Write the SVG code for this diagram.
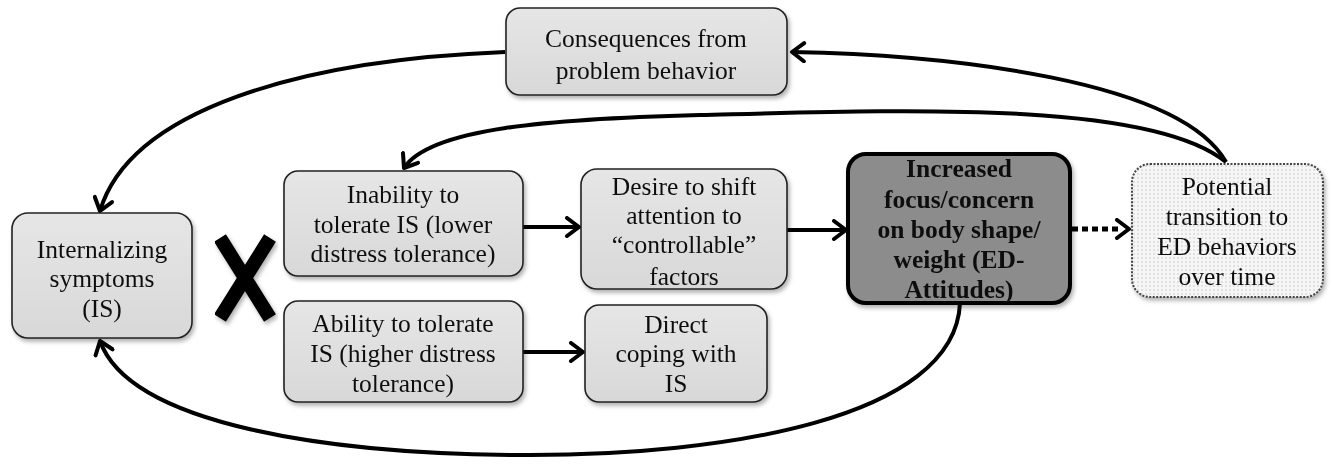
<svg xmlns="http://www.w3.org/2000/svg" width="1333" height="468" viewBox="0 0 1333 468">
<style>
.box{fill:url(#g);stroke:#222;stroke-width:1.6}
.t{font-family:"Liberation Serif","Times New Roman",serif;font-size:25.5px;fill:#111;text-anchor:middle}
.b{font-weight:bold}
.c{fill:none;stroke:#000;stroke-width:4}
</style>
<defs>
<linearGradient id="g" x1="0" y1="0" x2="0" y2="1"><stop offset="0" stop-color="#e6e6e6"/><stop offset="1" stop-color="#d8d8d8"/></linearGradient>
<pattern id="dots" width="4" height="4" patternUnits="userSpaceOnUse"><rect width="4" height="4" fill="#f6f6f6"/><circle cx="2" cy="2" r="0.8" fill="#c4c4c4"/></pattern>
<filter id="sh" x="-10%" y="-10%" width="125%" height="130%"><feDropShadow dx="2" dy="3" stdDeviation="2" flood-color="#000" flood-opacity="0.3"/></filter>
<marker id="arr" viewBox="0 0 20 22" markerWidth="20" markerHeight="22" refX="16" refY="11" orient="auto" markerUnits="userSpaceOnUse"><path d="M4,2 L16,11 L4,20" fill="none" stroke="#000" stroke-width="4" stroke-linecap="round" stroke-linejoin="round"/></marker>
</defs>
<g id="connectors">
<path class="c" d="M1226,162 C1180,80 950,55 792,52" marker-end="url(#arr)"/>
<path class="c" d="M1226,162 C1150,100 900,110 700,115 C550,119 430,128 404,168" marker-end="url(#arr)"/>
<path class="c" d="M505,52 C300,60 130,110 100,211" marker-end="url(#arr)"/>
<path class="c" d="M960,303 C955,420 720,455 530,455 C330,455 130,425 100,341" marker-end="url(#arr)"/>
<path class="c" d="M523,227 L579,227" marker-end="url(#arr)"/>
<path class="c" d="M787,230 L846,230" marker-end="url(#arr)"/>
<path class="c" d="M523,352 L583,352" marker-end="url(#arr)"/>
<path fill="none" stroke="#000" stroke-width="5" stroke-dasharray="6,4" d="M1072,229 L1118,229"/>
<path class="c" d="M1112,229 L1129,229" marker-end="url(#arr)" stroke-opacity="0"/>
</g>
<g id="consequences" filter="url(#sh)"><rect class="box" x="506" y="8" width="281" height="87" rx="14"/>
<text class="t" x="646" y="47">Consequences from</text><text class="t" x="646" y="79">problem behavior</text></g>
<g id="internalizing" filter="url(#sh)"><rect class="box" x="12" y="213" width="180" height="125" rx="16"/>
<text class="t" x="102" y="258">Internalizing</text><text class="t" x="102" y="287">symptoms</text><text class="t" x="102" y="317">(IS)</text></g>
<g id="cross" filter="url(#sh)"><path d="M220,238 L270,318 M270,238 L220,318" stroke="#000" stroke-width="14" fill="none"/></g>
<g id="inability" filter="url(#sh)"><rect class="box" x="284" y="171" width="239" height="105" rx="14"/>
<text class="t" x="403" y="203">Inability to</text><text class="t" x="403" y="233">tolerate IS (lower</text><text class="t" x="403" y="262">distress tolerance)</text></g>
<g id="ability" filter="url(#sh)"><rect class="box" x="284" y="301" width="239" height="101" rx="14"/>
<text class="t" x="403" y="332">Ability to tolerate</text><text class="t" x="403" y="362">IS (higher distress</text><text class="t" x="403" y="392">tolerance)</text></g>
<g id="desire" filter="url(#sh)"><rect class="box" x="581" y="169" width="206" height="120" rx="16"/>
<text class="t" x="684" y="195">Desire to shift</text><text class="t" x="684" y="224">attention to</text><text class="t" x="684" y="253">“controllable”</text><text class="t" x="684" y="285">factors</text></g>
<g id="direct" filter="url(#sh)"><rect class="box" x="585" y="305" width="182" height="97" rx="14"/>
<text class="t" x="676" y="333">Direct</text><text class="t" x="676" y="362">coping with</text><text class="t" x="676" y="392">IS</text></g>
<g id="increased" filter="url(#sh)"><rect x="848" y="154" width="222" height="149" rx="18" fill="#8c8c8c" stroke="#000" stroke-width="4"/>
<text class="t b" x="959" y="177">Increased</text><text class="t b" x="959" y="208">focus/concern</text><text class="t b" x="959" y="238">on body shape/</text><text class="t b" x="959" y="268">weight (ED-</text><text class="t b" x="959" y="298">Attitudes)</text></g>
<g id="potential" filter="url(#sh)"><rect x="1132" y="164" width="191" height="133" rx="18" fill="url(#dots)" stroke="#444" stroke-width="2" stroke-dasharray="2,1.5"/>
<text class="t" x="1227" y="195">Potential</text><text class="t" x="1227" y="225">transition to</text><text class="t" x="1227" y="255">ED behaviors</text><text class="t" x="1227" y="285">over time</text></g>
</svg>
